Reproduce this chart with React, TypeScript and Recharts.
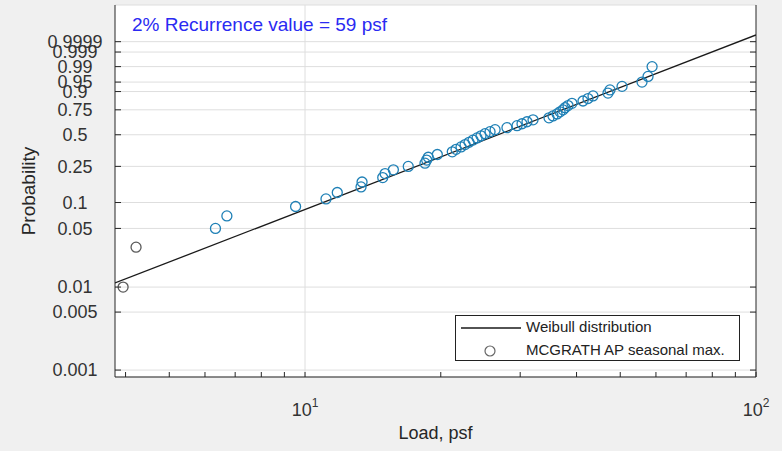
import React from "react";
import {
  ScatterChart,
  Scatter,
  XAxis,
  YAxis,
  CartesianGrid,
  ReferenceLine,
} from "recharts";

// MCGRATH AP seasonal maxima, sorted (psf)
const loadPsf = [
  3.95, 4.22, 6.33, 6.71, 9.53, 11.13, 11.79, 13.31, 13.38, 14.87,
  15.05, 15.7, 16.94, 18.45, 18.61, 18.76, 19.65, 21.21, 21.62, 22.18,
  22.64, 23.1, 23.58, 24.07, 24.56, 25.07, 25.72, 26.39, 28.04, 29.52,
  30.28, 31.06, 32.03, 34.75, 35.47, 36.21, 36.77, 37.34, 37.72, 38.3,
  39.08, 41.34, 42.41, 43.51, 46.97, 47.45, 50.46, 55.88, 57.62, 58.83,
];
// plotting positions
const probability = [
  0.01, 0.03, 0.05, 0.07, 0.09, 0.11, 0.13, 0.15, 0.17, 0.19,
  0.21, 0.23, 0.25, 0.27, 0.29, 0.31, 0.33, 0.35, 0.37, 0.39,
  0.41, 0.43, 0.45, 0.47, 0.49, 0.51, 0.53, 0.55, 0.57, 0.59,
  0.61, 0.63, 0.65, 0.67, 0.69, 0.71, 0.73, 0.75, 0.77, 0.79,
  0.81, 0.83, 0.85, 0.87, 0.89, 0.91, 0.93, 0.95, 0.97, 0.99,
];

// fitted Weibull line, end points at the plot edges
const fitLoad = [3.79, 100];
const fitProb = [0.0112, 0.999985];

const probTicks = [0.001, 0.005, 0.01, 0.05, 0.1, 0.25, 0.5, 0.75, 0.9, 0.95, 0.99, 0.999, 0.9999];
const probTickLabels = ["0.001", "0.005", "0.01", "0.05", "0.1", "0.25", "0.5", "0.75", "0.9", "0.95", "0.99", "0.999", "0.9999"];
const loadTicks = [4, 5, 6, 7, 8, 9, 10, 20, 30, 40, 50, 60, 70, 80, 90, 100];
const majorLoads = [10, 100];
const majorExps = ["1", "2"];

const title = "2% Recurrence value = 59 psf";
const seriesNames = ["Weibull distribution", "MCGRATH AP seasonal max."];

// weibull probability paper: y = ln(-ln(1-p))
const wb = (p: number) => Math.log(-Math.log(1 - p));

const points = loadPsf.map((x, i) => ({ x, y: wb(probability[i]) }));
const fitLine = fitLoad.map((x, i) => ({ x, y: wb(fitProb[i]) }));
const yTicks = probTicks.map(wb);

const FONT = '"Liberation Sans", Arial, sans-serif';
const AXIS = "#262626";
const GRID = "#dedede";

const labelFor = (v: number) => {
  const i = yTicks.findIndex((t) => Math.abs(t - v) < 1e-6);
  return i >= 0 ? probTickLabels[i] : "";
};

const LeftTick = (props: any) => {
  const { x, y, payload } = props;
  return (
    <g>
      <line x1={x} y1={y} x2={x + 6} y2={y} stroke={AXIS} />
      <text x={x - 40} y={y} dy="0.35em" textAnchor="middle" fontSize={18} fill="#333">
        {labelFor(payload.value)}
      </text>
    </g>
  );
};

const RightTick = (props: any) => {
  const { x, y } = props;
  return <line x1={x} y1={y} x2={x - 6} y2={y} stroke={AXIS} />;
};

const BottomTick = (props: any) => {
  const { x, y, payload } = props;
  const k = majorLoads.indexOf(payload.value);
  return (
    <g>
      <line x1={x} y1={y} x2={x} y2={y - 5} stroke={AXIS} />
      {k >= 0 && (
        <text x={x} y={y + 39} textAnchor="middle" fontSize={18} fill="#333">
          10
          <tspan dy={-9} fontSize={12}>
            {majorExps[k]}
          </tspan>
        </text>
      )}
    </g>
  );
};

const TopTick = (props: any) => {
  const { x, y } = props;
  return <line x1={x} y1={y} x2={x} y2={y + 5} stroke={AXIS} />;
};

const Ring = (props: any) => {
  const { cx, cy, payload } = props;
  const early = payload && payload.x < 5;
  return (
    <circle cx={cx} cy={cy} r={5} fill="none" stroke={early ? "#5a5a5a" : "#1f80b6"} strokeWidth={1.3} />
  );
};

const NoDot = () => <g />;

const YLabel = (props: any) => {
  const vb = props.viewBox || { y: 5, height: 372 };
  const cy = vb.y + vb.height / 2;
  return (
    <text x={28} y={cy} transform={`rotate(-90, 28, ${cy})`} textAnchor="middle" dy="0.35em" fontSize={19} fill={AXIS}>
      Probability
    </text>
  );
};

const LegendBox = () => (
  <div
    style={{
      position: "absolute",
      left: 455,
      top: 315,
      width: 285,
      height: 46,
      boxSizing: "border-box",
      border: "1px solid #222",
      background: "#fff",
      fontSize: 15,
      color: "#222",
    }}
  >
    <svg width={70} height={46} style={{ position: "absolute", left: 0, top: 0 }}>
      <line x1={5} y1={12} x2={65} y2={12} stroke="#1a1a1a" strokeWidth={1.3} />
      <circle cx={34} cy={35} r={5} fill="none" stroke="#666" strokeWidth={1.2} />
    </svg>
    <div style={{ position: "absolute", left: 70, top: 2, lineHeight: "18px", whiteSpace: "nowrap" }}>
      {seriesNames[0]}
    </div>
    <div style={{ position: "absolute", left: 70, top: 25, lineHeight: "18px", whiteSpace: "nowrap" }}>
      {seriesNames[1]}
    </div>
  </div>
);

export default function App() {
  return (
    <div
      style={{
        position: "absolute",
        left: 0,
        top: 0,
        width: 782,
        height: 451,
        background: "#f0f0f0",
        fontFamily: FONT,
      }}
    >
      <ScatterChart width={782} height={451} margin={{ top: 5, right: 0, bottom: 0, left: 0 }}>
        <CartesianGrid xAxisId="b" yAxisId="l" vertical={false} stroke={GRID} fill="#fff" />
        <ReferenceLine x={10} xAxisId="b" yAxisId="l" stroke={GRID} />
        <XAxis
          xAxisId="b"
          dataKey="x"
          type="number"
          scale="log"
          domain={[3.79, 100]}
          allowDataOverflow
          ticks={loadTicks}
          interval={0}
          tickSize={0}
          tickMargin={0}
          tickLine={false}
          tick={<BottomTick />}
          height={74}
          axisLine={{ stroke: AXIS }}
          label={{ value: "Load, psf", position: "insideBottom", offset: 12, fontSize: 18, fill: AXIS }}
        />
        <XAxis
          xAxisId="t"
          orientation="top"
          dataKey="x"
          type="number"
          scale="log"
          domain={[3.79, 100]}
          allowDataOverflow
          ticks={loadTicks}
          interval={0}
          tickSize={0}
          tickMargin={0}
          tickLine={false}
          tick={<TopTick />}
          height={0}
          axisLine={{ stroke: AXIS }}
        />
        <YAxis
          yAxisId="l"
          dataKey="y"
          type="number"
          domain={[-7.1, 3.24]}
          allowDataOverflow
          ticks={yTicks}
          interval={0}
          tickSize={0}
          tickMargin={0}
          tickLine={false}
          tick={<LeftTick />}
          width={115}
          axisLine={{ stroke: AXIS }}
          label={<YLabel />}
        />
        <YAxis
          yAxisId="r"
          orientation="right"
          dataKey="y"
          type="number"
          domain={[-7.1, 3.24]}
          allowDataOverflow
          ticks={yTicks}
          interval={0}
          tickSize={0}
          tickMargin={0}
          tickLine={false}
          tick={<RightTick />}
          width={26}
          axisLine={{ stroke: AXIS }}
        />
        <Scatter
          name={seriesNames[0]}
          xAxisId="b"
          yAxisId="l"
          data={fitLine}
          line={{ stroke: "#1a1a1a", strokeWidth: 1.3 }}
          shape={<NoDot />}
          isAnimationActive={false}
        />
        <Scatter
          name={seriesNames[1]}
          xAxisId="b"
          yAxisId="l"
          data={points}
          shape={<Ring />}
          isAnimationActive={false}
        />
      </ScatterChart>
      <LegendBox />
      <div
        style={{
          position: "absolute",
          left: 132,
          top: 15,
          fontSize: 19,
          lineHeight: "20px",
          color: "#2a2af2",
          whiteSpace: "nowrap",
        }}
      >
        {title}
      </div>
    </div>
  );
}
